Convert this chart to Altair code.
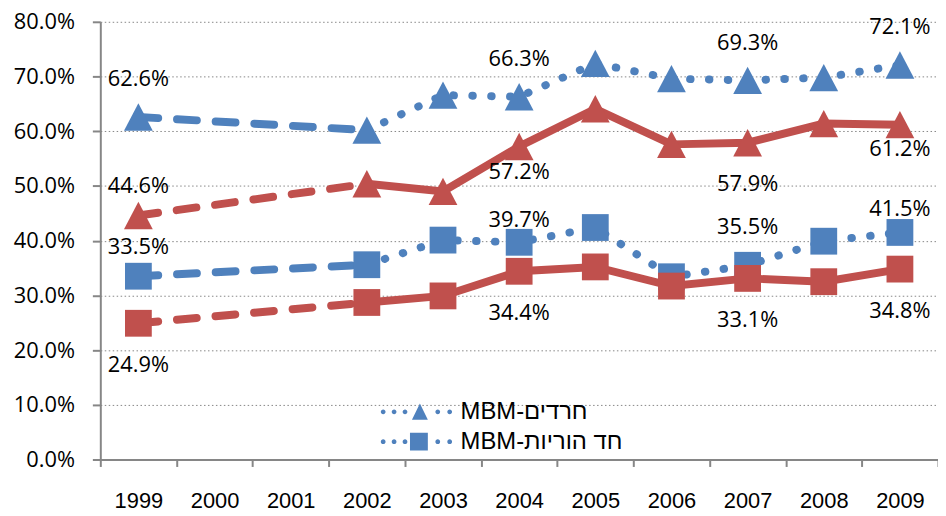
import altair as alt
import pandas as pd

# ---------------- data ----------------
years = ["1999", "2000", "2001", "2002", "2003", "2004", "2005", "2006", "2007", "2008", "2009"]
data_years = ["1999", "2002", "2003", "2004", "2005", "2006", "2007", "2008", "2009"]

series_names = ["MBM-חרדים", "MBM-חד הוריות", "חרדים", "חד הוריות"]
series_group = ["blue", "blue", "red", "red"]
series_marker = ["tri", "sq", "tri", "sq"]

haredim_mbm = [62.6, 60.2, 66.6, 66.3, 72.4, 69.6, 69.3, 69.8, 72.1]
single_mbm = [33.5, 35.6, 40.1, 39.7, 42.4, 33.4, 35.5, 39.9, 41.5]
haredim_other = [44.6, 50.4, 49.0, 57.2, 64.1, 57.6, 57.9, 61.4, 61.2]
single_other = [24.9, 28.7, 29.9, 34.4, 35.2, 31.7, 33.1, 32.5, 34.8]
series_values = [haredim_mbm, single_mbm, haredim_other, single_other]

labelled_years = ["1999", "2004", "2007", "2009"]
legend_labels = ["MBM-חרדים", "MBM-חד הוריות"]
y_ticks = [0, 10, 20, 30, 40, 50, 60, 70, 80]

# ---------------- style ----------------
BLUE = "#4F81BD"
RED = "#C0504D"
GRAY = "#868686"
NUM_FONT = "Open Sans"
LAT_FONT = "Liberation Sans"

# label offsets (pixels) per series index and year
label_dy = {
    (0, "1999"): -38, (0, "2004"): -38, (0, "2007"): -38, (0, "2009"): -38,
    (2, "1999"): -30, (2, "2004"): 26, (2, "2007"): 42, (2, "2009"): 25,
    (1, "1999"): -29, (1, "2004"): -22, (1, "2007"): -39, (1, "2009"): -24,
    (3, "1999"): 42, (3, "2004"): 42, (3, "2007"): 42, (3, "2009"): 42,
}

TRI_PATH = "M0,-0.95L1,0.95L-1,0.95Z"


def dot(cx, r=2.4):
    return f"M{cx - r},0a{r},{r} 0 1,0 {2 * r},0a{r},{r} 0 1,0 {-2 * r},0Z"


DOTS = "".join(dot(c) for c in [0, 11, 22, 55, 67])
LEG_TRI = DOTS + "M37,-8.5L45,8L29,8Z"
LEG_SQ = DOTS + "M27,-9h18v18h-18Z"

# ---------------- tables ----------------
line_rows, point_rows, label_rows = [], [], []
for i, name in enumerate(series_names):
    for yr, v in zip(data_years, series_values[i]):
        point_rows.append({"series": name, "year": yr, "v": v,
                           "group": series_group[i], "marker": series_marker[i]})
        if yr in ("1999", "2002"):
            line_rows.append({"series": name, "year": yr, "v": v, "seg": "gap", "group": series_group[i]})
        if yr != "1999":
            line_rows.append({"series": name, "year": yr, "v": v, "seg": "main", "group": series_group[i]})
        if yr in labelled_years:
            label_rows.append({"series": name, "year": yr, "v": v, "key": f"{i}_{yr}"})

df_lines = pd.DataFrame(line_rows)
df_points = pd.DataFrame(point_rows)
df_labels = pd.DataFrame(label_rows)
df_legend = pd.DataFrame({"label": legend_labels, "v": [float("nan")] * len(legend_labels)})

# ---------------- encodings ----------------
X = alt.X(
    "year:O",
    scale=alt.Scale(type="band", domain=years, paddingInner=0, paddingOuter=0),
    bandPosition=0.5,
    title=None,
    axis=alt.Axis(
        tickBand="extent", grid=False, labelAngle=0,
        domainColor=GRAY, domainWidth=2, tickColor=GRAY, tickWidth=2, tickSize=7,
        labelFont=LAT_FONT, labelFontSize=22, labelColor="black", labelPadding=24,
    ),
)
Y = alt.Y(
    "v:Q",
    scale=alt.Scale(domain=[0, 80], nice=False),
    title=None,
    axis=alt.Axis(
        values=y_ticks, labelExpr="format(datum.value, '.1f') + '%'",
        grid=True, gridColor=GRAY, gridDash=[1.5, 2.5], gridWidth=1,
        domainColor=GRAY, domainWidth=2, tickColor=GRAY, tickWidth=2, tickSize=8,
        labelFont=NUM_FONT, labelFontSize=22, labelColor="black", labelPadding=18,
    ),
)
COLOR = alt.Color("series:N", scale=alt.Scale(domain=series_names, range=[BLUE, BLUE, RED, RED]), legend=None)

lines = alt.Chart(df_lines).encode(x=X, y=Y, color=COLOR, detail="series:N")
points = alt.Chart(df_points).encode(x=X, y=Y, color=COLOR)


def layers_for(group):
    out = []
    out.append(
        lines.transform_filter(f"datum.seg == 'gap' && datum.group == '{group}'")
        .mark_line(strokeDash=[20, 19], strokeCap="round", strokeWidth=8)
    )
    if group == "blue":
        main = lines.mark_line(strokeDash=[0.5, 18.5], strokeCap="round", strokeWidth=8)
    else:
        main = lines.mark_line(strokeWidth=8, strokeJoin="miter")
    out.append(main.transform_filter(f"datum.seg == 'main' && datum.group == '{group}'"))
    out.append(
        points.transform_filter(f"datum.group == '{group}' && datum.marker == 'tri'")
        .mark_point(shape=TRI_PATH, filled=True, size=841, opacity=1, strokeWidth=0)
    )
    out.append(
        points.transform_filter(f"datum.group == '{group}' && datum.marker == 'sq'")
        .mark_point(shape="square", filled=True, size=729, opacity=1, strokeWidth=0)
    )
    return out


text_layers = []
for d in sorted(set(label_dy.values())):
    keys = [f"{i}_{yr}" for (i, yr), dd in label_dy.items() if dd == d]
    text_layers.append(
        alt.Chart(df_labels)
        .transform_filter(alt.FieldOneOfPredicate(field="key", oneOf=keys))
        .transform_calculate(lbl="format(datum.v, '.1f') + '%'")
        .mark_text(font=NUM_FONT, fontSize=22, color="black", align="center", baseline="middle", dy=d)
        .encode(x=X, y=Y, text="lbl:N")
    )

legend_layer = (
    alt.Chart(df_legend)
    .mark_point(filled=True, opacity=1, color=BLUE, size=4, strokeWidth=0)
    .encode(
        y=Y,
        shape=alt.Shape(
            "label:N",
            scale=alt.Scale(domain=legend_labels, range=[LEG_TRI, LEG_SQ]),
            legend=alt.Legend(
                orient="none", legendX=273, legendY=381, title=None, padding=0,
                labelFont=LAT_FONT, labelFontSize=24, labelColor="black", labelLimit=600,
                symbolSize=4, symbolFillColor=BLUE, symbolStrokeWidth=0, symbolOpacity=1,
                labelOffset=66, rowPadding=6,
            ),
        ),
    )
)

chart = (
    alt.layer(*layers_for("blue"), *layers_for("red"), *text_layers, legend_layer)
    .properties(
        width=844, height=441,
        padding={"left": 93, "top": 12, "right": 0, "bottom": 53},
        autosize=alt.AutoSizeParams(type="none"),
        background="white",
    )
    .configure_view(stroke=None)
)

chart.save("out.html", embed_options={"renderer": "svg", "actions": False})
